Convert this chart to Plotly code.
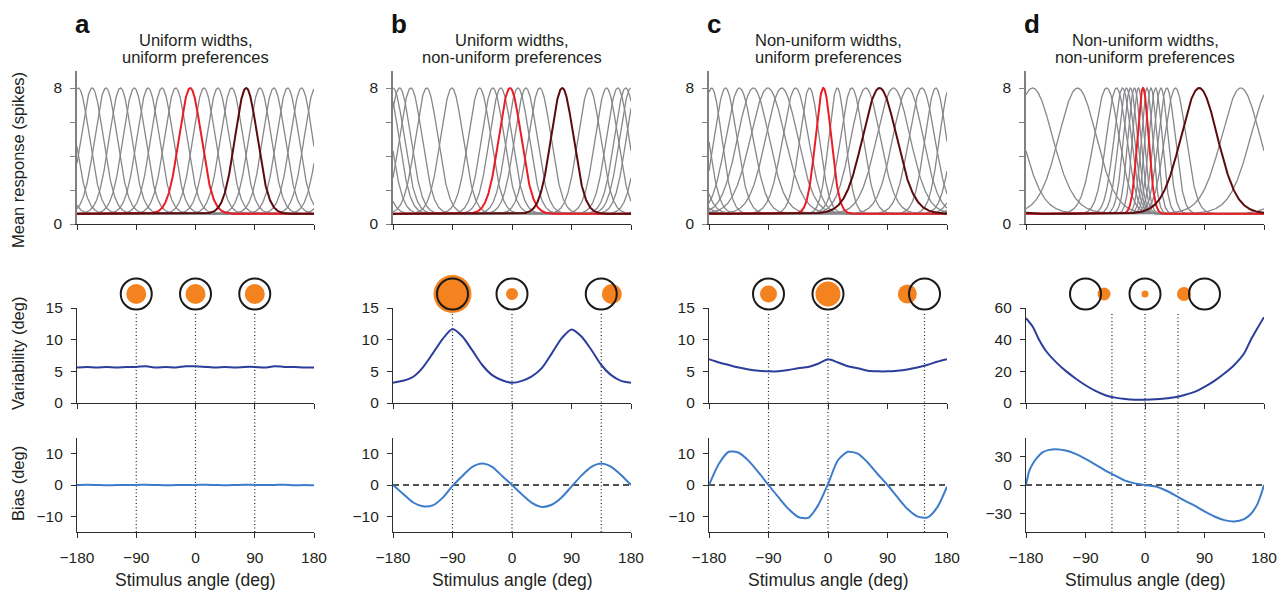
import numpy as np
import plotly.graph_objects as go

# page body has an 8px margin, so the figure is 8px smaller and all pixel
# positions below are given in window coordinates and shifted by OFF
OFF = 8
W, H = 1288 - OFF, 594 - OFF

# ------------------------------------------------------------------ data
angle_ticks = [-180, -90, 0, 90, 180]
angle_tick_text = ["\u2212180", "\u221290", "0", "90", "180"]

panel_letters = ["a", "b", "c", "d"]
panel_titles = [
    ("Uniform widths,", "uniform preferences"),
    ("Uniform widths,", "non-uniform preferences"),
    ("Non-uniform widths,", "uniform preferences"),
    ("Non-uniform widths,", "non-uniform preferences"),
]

tuning_baseline = 0.6
tuning_peak = 8.0

# preferred angles (deg) and tuning widths (FWHM, deg) of each neuron
prefs_a = [-178, -157, -136, -114, -93, -72, -51, -30, -8, 13, 34, 55, 77, 98, 119, 140, 161]
fwhm_a = [40, 40, 40, 40, 40, 40, 40, 40, 40, 40, 40, 40, 40, 40, 40, 40, 40]
prefs_b = [-180, -170, -153, -129, -91, -49, -29, -17, -3, 9, 21, 42, 76, 117, 143, 160, 172]
fwhm_b = [40, 40, 40, 40, 40, 40, 40, 40, 40, 40, 40, 40, 40, 40, 40, 40, 40]
prefs_c = [-176, -155, -134, -113, -91, -70, -49, -28, -7, 14, 36, 57, 78, 99, 121, 142, 163]
fwhm_c = [36, 40, 48, 56, 62, 57, 46, 35, 28, 30, 40, 52, 61, 60, 54, 46, 38]
prefs_d = [-170, -102, -58, -43, -34, -28, -22, -16, -10, -3, 3, 9, 16, 24, 33, 46, 82, 145]
fwhm_d = [72, 68, 45, 36, 31, 28, 25, 23, 21, 20, 20, 21, 23, 26, 30, 38, 66, 70]
highlight_red = [8, 8, 8, 9]      # index of the red neuron in each panel
highlight_dark = [12, 12, 12, 16]  # index of the dark-red neuron

# variability and bias curves (deg)
angles_15 = [-180, -165, -150, -135, -120, -105, -90, -75, -60, -45, -30, -15, 0,
             15, 30, 45, 60, 75, 90, 105, 120, 135, 150, 165, 180]
var_a = [5.6, 5.7, 5.6, 5.7, 5.6, 5.7, 5.7, 5.8, 5.6, 5.7, 5.6, 5.8, 5.8,
         5.7, 5.6, 5.7, 5.6, 5.7, 5.7, 5.6, 5.8, 5.7, 5.7, 5.6, 5.6]
bias_a = [0.0, 0.1, 0.0, -0.1, 0.0, 0.0, 0.0, 0.1, 0.0, -0.1, 0.0, 0.0, 0.0,
          0.1, 0.0, -0.1, 0.0, 0.1, 0.0, 0.0, 0.0, 0.1, -0.1, 0.0, -0.1]
var_b = [3.2, 3.5, 4.1, 5.6, 7.8, 10.1, 11.7, 10.5, 8.3, 6.0, 4.4, 3.6, 3.2,
         3.5, 4.2, 5.5, 7.8, 10.2, 11.6, 10.5, 8.4, 6.0, 4.4, 3.5, 3.2]
bias_b = [0.0, -2.8, -5.5, -6.8, -6.5, -4.1, -0.3, 2.9, 5.8, 6.9, 5.8, 2.9, 0.0,
          -3.0, -5.7, -7.0, -6.3, -4.0, -0.5, 3.0, 5.8, 6.9, 5.8, 3.2, 0.0]
var_c = [6.9, 6.4, 6.0, 5.6, 5.3, 5.1, 5.0, 5.0, 5.2, 5.5, 5.7, 6.2, 6.9,
         6.4, 5.8, 5.5, 5.1, 5.0, 5.0, 5.1, 5.3, 5.6, 6.0, 6.5, 6.9]
bias_c = [0.0, 6.8, 10.6, 10.3, 7.7, 4.0, 0.0, -3.9, -7.6, -10.2, -10.5, -6.5, 0.3,
          7.9, 10.6, 10.0, 7.2, 3.5, 0.0, -3.9, -7.6, -10.0, -10.4, -7.2, -0.5]
angles_var_d = [-180, -170, -160, -150, -135, -120, -105, -90, -75, -60, -45, -30, -15, 0,
                15, 30, 45, 60, 75, 90, 105, 120, 135, 150, 160, 170, 180]
var_d = [53.6, 48.3, 39.8, 33.0, 26.0, 20.3, 15.5, 11.2, 7.6, 4.9, 3.4, 2.5, 2.1, 2.1,
         2.3, 2.8, 3.6, 5.1, 7.0, 10.2, 14.0, 18.6, 24.0, 31.4, 39.8, 47.2, 54.2]
angles_bias_d = [-180, -175, -170, -165, -155, -145, -135, -120, -105, -90, -75, -60, -45, -30, -15, 0,
                 15, 30, 45, 60, 75, 90, 105, 120, 135, 150, 160, 170, 175, 180]
bias_d = [0.0, 15.0, 22.0, 27.0, 34.0, 36.6, 37.3, 35.9, 32.4, 27.2, 21.3, 15.0, 9.8, 4.5, 1.7, 0.0,
          -1.4, -5.2, -10.5, -16.4, -21.6, -27.5, -32.8, -36.6, -38.0, -35.5, -30.3, -19.9, -11.0, 0.0]

# stimulus markers: dotted-line positions, rings and orange estimate dots
dotted_x = [[-90, 0, 90], [-90, 0, 135], [-90, 0, 146], [-50, 0, 50]]
ring_x = [[-90, 0, 90], [-90, 0, 135], [-90, 0, 146], [-90, 0, 90]]
dot_x = [[-90, 0, 90], [-90, 0, 151], [-90, 0, 120], [-62, 0, 59]]
dot_size = [[20, 20, 20], [38, 12, 20], [17, 25, 19], [13, 7, 14]]

var_ranges = [[0, 15], [0, 15], [0, 15], [0, 60]]
var_ticks = [[0, 5, 10, 15], [0, 5, 10, 15], [0, 5, 10, 15], [0, 20, 40, 60]]
bias_ranges = [[-15, 15], [-15, 15], [-15, 15], [-49, 49]]
bias_ticks = [[-10, 0, 10], [-10, 0, 10], [-10, 0, 10], [-30, 0, 30]]
show_zero_dash = [False, True, True, True]

# ------------------------------------------------------------------ style
FONT = "Liberation Sans, Arial, Helvetica, sans-serif"
TXT = "#231f20"
AX = "#2e2e2e"
GRAY = "#87878b"
RED = "#ec1c24"
DARK = "#5b0b0e"
VAR_BLUE = "#2c3e9c"
BIAS_BLUE = "#3d7ccb"
ORANGE = "#f4831f"

col_px = [(77, 314), (393, 631), (709, 947), (1026, 1264)]
row_px = [(71, 224), (308, 403), (438, 532)]
ring_row_px = (276, 312)


def dx(p):
    return (p - OFF) / W


def dy(p):
    return 1 - (p - OFF) / H


prefs = [prefs_a, prefs_b, prefs_c, prefs_d]
fwhms = [fwhm_a, fwhm_b, fwhm_c, fwhm_d]
var_x = [angles_15, angles_15, angles_15, angles_var_d]
var_y = [var_a, var_b, var_c, var_d]
bias_x = [angles_15, angles_15, angles_15, angles_bias_d]
bias_y = [bias_a, bias_b, bias_c, bias_d]

theta = np.linspace(-180, 180, 721)


def tuning(mu, fwhm):
    kappa = np.log(2) / (1 - np.cos(np.radians(fwhm / 2)))
    return tuning_baseline + (tuning_peak - tuning_baseline) * np.exp(
        kappa * (np.cos(np.radians(theta - mu)) - 1))


fig = go.Figure()
layout = dict(
    template="none",
    width=W, height=H, autosize=False, margin=dict(l=0, r=0, t=0, b=0, pad=0),
    paper_bgcolor="white", plot_bgcolor="white", showlegend=False,
    font=dict(family=FONT, size=15, color=TXT),
)
annotations = []
shapes = []


def ax_name(i, k):
    return k if i == 1 else f"{k}{i}"


for c in range(4):
    x0, x1 = col_px[c]
    for r in range(3):
        i = r * 4 + c + 1
        y_top, y_bot = row_px[r]
        xa = dict(
            domain=[dx(x0), dx(x1)], range=[-180, 180], anchor=ax_name(i, "y"),
            tickvals=angle_ticks, ticktext=angle_tick_text, ticks="outside", ticklen=5,
            tickwidth=1, tickcolor=AX, showline=True, linecolor=AX, linewidth=1.2,
            showgrid=False, zeroline=False, showticklabels=(r == 2), automargin=False,
            tickfont=dict(size=15.5, color=TXT), fixedrange=True,
        )
        if r == 2:
            xa["ticklabelstandoff"] = 6
        if r == 0:
            ya_range, ya_ticks, ya_text = [0, 9], [0, 2, 4, 6, 8], ["0", "", "", "", "8"]
            ycol = "#808080"
        elif r == 1:
            ya_range, ya_ticks = var_ranges[c], var_ticks[c]
            ya_text = [str(v) for v in ya_ticks]
            ycol = AX
        else:
            ya_range, ya_ticks = bias_ranges[c], bias_ticks[c]
            ya_text = [str(v).replace("-", "\u2212") for v in ya_ticks]
            ycol = AX
        ya = dict(
            domain=[dy(y_bot), dy(y_top)], range=ya_range, anchor=ax_name(i, "x"),
            tickvals=ya_ticks, ticktext=ya_text, ticks="outside", ticklen=5,
            tickwidth=1, tickcolor=ycol, showline=True, linecolor=ycol,
            linewidth=1.8 if r == 0 else 1.2, showgrid=False, zeroline=False,
            tickfont=dict(size=15.5, color=TXT), fixedrange=True, ticklabelstandoff=5,
            automargin=False,
        )
        layout["xaxis" if i == 1 else f"xaxis{i}"] = xa
        layout["yaxis" if i == 1 else f"yaxis{i}"] = ya

    # ---------------- tuning curves
    xa1, ya1 = ax_name(c + 1, "x"), ax_name(c + 1, "y")
    for j, (mu, fw) in enumerate(zip(prefs[c], fwhms[c])):
        if j in (highlight_red[c], highlight_dark[c]):
            continue
        fig.add_trace(go.Scatter(x=theta, y=tuning(mu, fw), mode="lines",
                                 line=dict(color=GRAY, width=1.3),
                                 xaxis=xa1, yaxis=ya1, hoverinfo="skip"))
    for j, col in ((highlight_red[c], RED), (highlight_dark[c], DARK)):
        fig.add_trace(go.Scatter(x=theta, y=tuning(prefs[c][j], fwhms[c][j]), mode="lines",
                                 line=dict(color=col, width=2.0),
                                 xaxis=xa1, yaxis=ya1, hoverinfo="skip"))

    # ---------------- dotted stimulus lines
    ib = 8 + c + 1
    for xv in dotted_x[c]:
        shapes.append(dict(type="line", xref=ax_name(ib, "x"), yref="paper",
                           x0=xv, x1=xv, y0=dy(row_px[2][1]), y1=dy(ring_row_px[1]),
                           line=dict(color="#222222", width=1.2, dash="1px,2.5px"), layer="below"))

    # ---------------- variability
    iv = 4 + c + 1
    fig.add_trace(go.Scatter(x=var_x[c], y=var_y[c], mode="lines",
                             line=dict(color=VAR_BLUE, width=2, shape="spline", smoothing=0.7),
                             xaxis=ax_name(iv, "x"), yaxis=ax_name(iv, "y"), hoverinfo="skip"))

    # ---------------- bias
    if show_zero_dash[c]:
        fig.add_trace(go.Scatter(x=[-180, 180], y=[0, 0], mode="lines",
                                 line=dict(color="#1a1a1a", width=1.3, dash="6px,4px"),
                                 xaxis=ax_name(ib, "x"), yaxis=ax_name(ib, "y"), hoverinfo="skip"))
    fig.add_trace(go.Scatter(x=bias_x[c], y=bias_y[c], mode="lines",
                             line=dict(color=BIAS_BLUE, width=2, shape="spline", smoothing=0.7),
                             xaxis=ax_name(ib, "x"), yaxis=ax_name(ib, "y"), hoverinfo="skip"))

    # ---------------- ring / estimate markers
    ic = 12 + c + 1
    layout[f"xaxis{ic}"] = dict(domain=[dx(x0), dx(x1)], range=[-180, 180], visible=False,
                                anchor=f"y{ic}", fixedrange=True, automargin=False)
    layout[f"yaxis{ic}"] = dict(domain=[dy(ring_row_px[1]), dy(ring_row_px[0])], range=[0, 1],
                                visible=False, anchor=f"x{ic}", fixedrange=True, automargin=False)
    fig.add_trace(go.Scatter(x=dot_x[c], y=[0.5] * len(dot_x[c]), mode="markers",
                             marker=dict(color=ORANGE, size=dot_size[c], opacity=1,
                                         line=dict(width=0)),
                             xaxis=f"x{ic}", yaxis=f"y{ic}", cliponaxis=False, hoverinfo="skip"))
    fig.add_trace(go.Scatter(x=ring_x[c], y=[0.5] * len(ring_x[c]), mode="markers",
                             marker=dict(color="rgba(0,0,0,0)", size=31, opacity=1,
                                         line=dict(color="#1a1a1a", width=2)),
                             xaxis=f"x{ic}", yaxis=f"y{ic}", cliponaxis=False, hoverinfo="skip"))

    # ---------------- texts
    xc = (x0 + x1) / 2
    for line_txt, yl in zip(panel_titles[c], (40, 57.5)):
        annotations.append(dict(text=line_txt, x=dx(xc), y=dy(yl), xref="paper", yref="paper",
                                showarrow=False, xanchor="center", yanchor="middle",
                                font=dict(size=16.5, color=TXT)))
    annotations.append(dict(text="<b>" + panel_letters[c] + "</b>", x=dx(x0 - 3), y=1,
                            xref="paper", yref="paper", showarrow=False,
                            xanchor="left", yanchor="top", borderpad=0,
                            font=dict(size=26, color="#111111")))
    annotations.append(dict(text="Stimulus angle (deg)", x=dx(xc), y=dy(580), xref="paper",
                            yref="paper", showarrow=False, xanchor="center", yanchor="middle",
                            font=dict(size=17.5, color=TXT)))

for txt, yc in (("Mean response (spikes)", 160), ("Variability (deg)", 354), ("Bias (deg)", 484)):
    annotations.append(dict(text=txt, x=dx(18), y=dy(yc), xref="paper", yref="paper",
                            showarrow=False, textangle=-90, xanchor="center", yanchor="middle",
                            font=dict(size=16.5, color=TXT)))

layout["annotations"] = annotations
layout["shapes"] = shapes
fig.update_layout(**layout)
fig.write_html("out.html")
